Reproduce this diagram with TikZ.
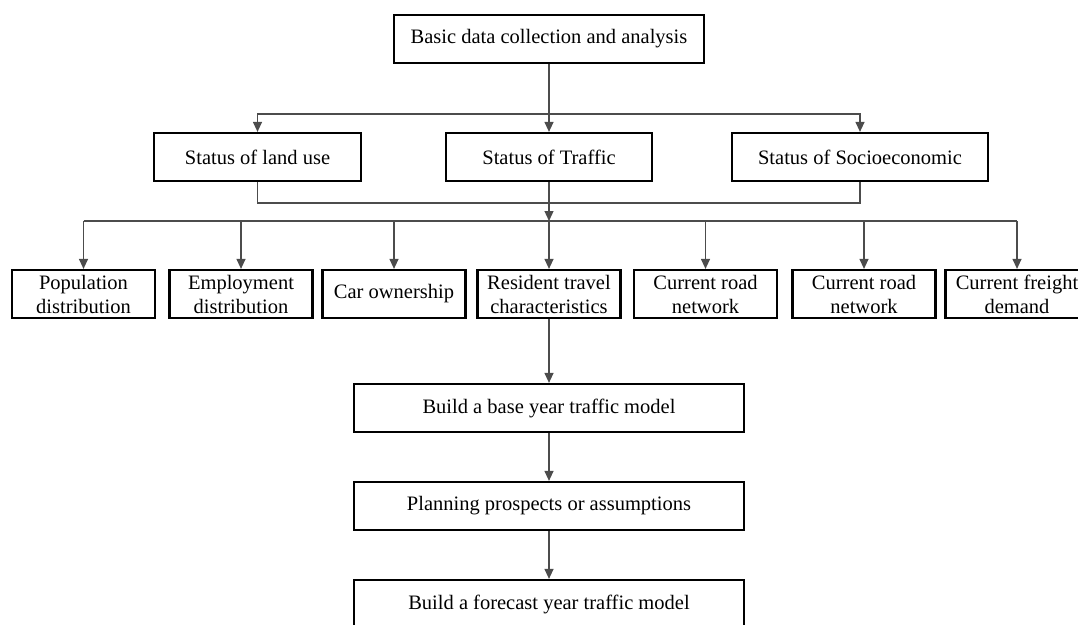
\documentclass[tikz,border=0pt]{standalone}
\usepackage{fontspec}
\setmainfont{Liberation Serif}
\usetikzlibrary{arrows.meta}

\begin{document}
\begin{tikzpicture}[x=1pt, y=-1pt,
    box/.style={draw, line width=2.2pt, minimum height=48pt, inner sep=0pt, align=center,
      font=\fontsize{20.5}{24}\selectfont},
    link/.style={draw=black!70, line width=1.2pt},
    arr/.style={link, -{Triangle[length=10pt, width=9pt]}}]
    \useasboundingbox (0,0) rectangle (1078,624);

    \node[box, minimum width=310pt] (top) at (549, 39) {Basic data collection and analysis};

    \node[box, minimum width=207pt] (land) at (257.5, 157) {Status of land use};
    \node[box, minimum width=206pt] (traffic) at (549, 157) {Status of Traffic};
    \node[box, minimum width=256pt] (socio) at (860, 157) {Status of Socioeconomic};

    \node[box, minimum width=143pt] (pop) at (83.5, 294) {Population\\distribution};
    \node[box, minimum width=143pt] (emp) at (241, 294) {Employment\\distribution};
    \node[box, minimum width=143pt] (car) at (394, 294) {Car ownership};
    \node[box, minimum width=143pt] (res) at (549, 294) {Resident travel\\characteristics};
    \node[box, minimum width=143pt] (road1) at (705.5, 294) {Current road\\network};
    \node[box, minimum width=143pt] (road2) at (864, 294) {Current road\\network};
    \node[box, minimum width=143pt] (freight) at (1017, 294) {Current freight\\demand};

    \node[box, minimum width=390pt] (base) at (549, 408) {Build a base year traffic model};
    \node[box, minimum width=390pt] (plan) at (549, 506) {Planning prospects or assumptions};
    \node[box, minimum width=390pt] (fore) at (549, 604) {Build a forecast year traffic model};

    \coordinate (busA) at (549, 114);
    \coordinate (busB) at (549, 203);
    \coordinate (busC) at (549, 221);

    % upper branches
    \draw[arr] (top) -- (traffic);
    \draw[arr] (busA) -| (land);
    \draw[arr] (busA) -| (socio);
    \draw[link] (land) |- (busB) -| (socio);
    \draw[arr] (traffic) -- (busC);

    % lower branches
    \draw[link] (pop.north |- busC) -- (freight.north |- busC);
    \foreach \n in {pop, emp, car, res, road1, road2, freight}
      \draw[arr] (\n.north |- busC) -- (\n);

    \draw[arr] (res) -- (base);
    \draw[arr] (base) -- (plan);
    \draw[arr] (plan) -- (fore);
\end{tikzpicture}
\end{document}
